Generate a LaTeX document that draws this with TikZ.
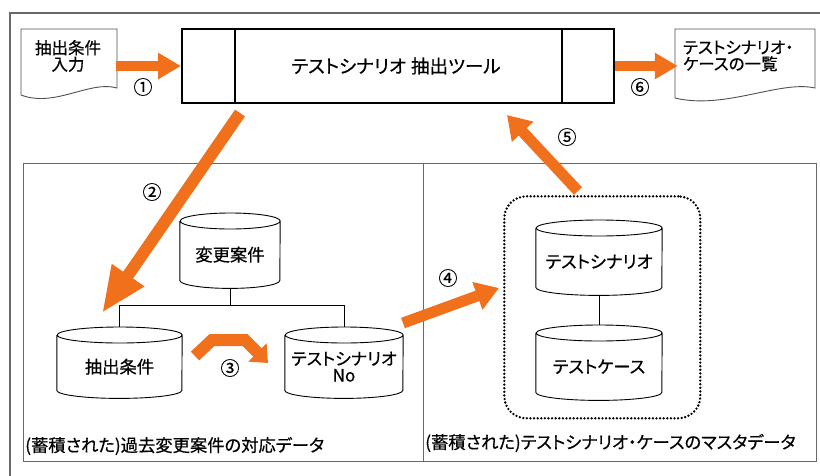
\documentclass[tikz,border=0pt]{standalone}
\usepackage{fontspec}
\setmainfont{Noto Sans CJK JP}[RawFeature=+palt,FakeBold=0.5]
\usetikzlibrary{arrows.meta}
\definecolor{arrOrange}{RGB}{240,112,28}
\definecolor{frameGray}{RGB}{105,105,105}
\definecolor{docGray}{RGB}{80,80,80}
\newcommand\drawcyl[2]{%
  \draw[cylline] (#1.north west) -- ([yshift=8pt]#1.south west)
    arc[start angle=180,end angle=360,x radius=#2,y radius=8pt]
    -- (#1.north east)
    arc[start angle=0,end angle=360,x radius=#2,y radius=8pt];}
\begin{document}
\begin{tikzpicture}[x=1pt,y=-1pt,
  font=\fontsize{17.3}{17.3}\selectfont,
  panel/.style={draw=frameGray,line width=1.1pt,inner sep=0pt,anchor=north west},
  cylnode/.style={inner sep=0pt,anchor=north,align=center},
  cylline/.style={draw=black,line width=0.9pt},
  docline/.style={draw=docGray,line width=0.9pt},
  docnode/.style={inner sep=0pt,font=\fontsize{16.5}{16.5}\selectfont},
  toolbox/.style={draw=black,line width=2pt,inner sep=0pt,anchor=north west},
  dotbox/.style={draw=black,line width=2.6pt,dash pattern=on 0pt off 3.6pt,line cap=round,rounded corners=22pt,inner sep=0pt,anchor=north west},
  treeline/.style={draw=black,line width=0.8pt},
  numlabel/.style={inner sep=0pt,font=\fontsize{19}{19}\selectfont},
  arrowA/.style={draw=arrOrange,line width=10pt,-{Triangle[length=23pt,width=25pt]}},
  arrowB/.style={draw=arrOrange,line width=12pt,-{Triangle[length=46pt,width=36pt]}},
  arrowC/.style={draw=arrOrange,line width=11pt,-{Triangle[length=23pt,width=28pt]}},
  arrowD/.style={draw=arrOrange,line width=12pt,line join=miter,-{Triangle[length=15pt,width=25pt]}}]
\useasboundingbox (0,0) rectangle (820,475);
% outer frame (cut off at right and bottom)
\draw[frameGray,line width=1.2pt] (10,476) -- (10,13) -- (821,13);
% panels
\node[panel,minimum width=400pt,minimum height=298pt] (leftpanel) at (23,163) {};
\node[panel,minimum width=393pt,minimum height=298pt] (rightpanel) at (423,163) {};
\node[anchor=west,inner sep=0pt] (leftlabel) at (25,446) {(蓄積された)過去変更案件の対応データ};
\node[anchor=west,inner sep=0pt] (rightlabel) at (425,443) {(蓄積された)テストシナリオ・ケースのマスタデータ};
% tool box
\node[toolbox,minimum width=432pt,minimum height=74pt] (tool) at (181,28) {};
\node[inner sep=0pt,font=\fontsize{18.5}{18.5}\selectfont] (tooltext) at (396,66) {テストシナリオ\hspace{5pt}抽出ツール};
\draw[black,line width=2pt] ([xshift=54pt]tool.north west) -- ([xshift=54pt]tool.south west);
\draw[black,line width=2pt] ([xshift=-53pt]tool.north east) -- ([xshift=-53pt]tool.south east);
% documents
\draw[docline,fill=white] (21,29) -- (117,29) -- (117,88) .. controls (90,80) and (55,108) .. (21,95) -- cycle;
\node[docnode,minimum width=96pt,text width=96pt,align=center] (doc1) at (68,56) {抽出条件\\入力};
\draw[docline,fill=white] (675,29) -- (815,29) -- (815,88) .. controls (780,80) and (725,110) .. (675,98) -- cycle;
\node[docnode,minimum width=140pt,text width=130pt,align=left] (doc2) at (748,56) {テストシナリオ・\\ケースの一覧};
% cylinders left
\node[cylnode,minimum width=100pt,minimum height=67pt] (henko) at (230,221) {変更案件};
\drawcyl{henko}{50pt}
\node[cylnode,minimum width=125pt,minimum height=63pt] (chushutsu) at (119.5,335) {抽出条件};
\drawcyl{chushutsu}{62.5pt}
\node[cylnode,minimum width=118pt,minimum height=63pt,font=\fontsize{17}{16.5}\selectfont] (tsno) at (344,335) {テストシナリオ\\No};
\drawcyl{tsno}{59pt}
\draw[treeline] (henko.south) -- ++(0,17) coordinate (treejoin);
\draw[treeline] (treejoin) -| ([yshift=8pt]chushutsu.north);
\draw[treeline] (treejoin) -| ([yshift=8pt]tsno.north);
% cylinders right
\node[dotbox,minimum width=196pt,minimum height=222pt] (master) at (503,195) {};
\node[cylnode,minimum width=126pt,minimum height=67pt] (scen) at (599,228) {テストシナリオ};
\drawcyl{scen}{63pt}
\node[cylnode,minimum width=126pt,minimum height=67pt] (tcase) at (599,333) {テストケース};
\drawcyl{tcase}{63pt}
\draw[treeline] (scen.south) -- ([yshift=8pt]tcase.north);
% arrows
\draw[arrowA] (doc1.east |- tool.west) -- (tool.west);
\draw[arrowA] (tool.east) -- (doc2.west |- tool.east);
\coordinate (a2s) at (240,113);
\coordinate (a2e) at (102,313);
\draw[arrowB] (a2s) -- (a2e);
\coordinate (a4s) at (403,323);
\coordinate (a4e) at (499,288);
\draw[arrowC] (a4s) -- (a4e);
\coordinate (a5s) at (578,191);
\coordinate (a5e) at (507,115);
\draw[arrowC] (a5s) -- (a5e);
\draw[arrowD] (195,356) -- (212,340) -- (245,340) -- (268,363);
% number labels
\node[numlabel] (n1) at (143,87) {①};
\node[numlabel] (n2) at (152,192) {②};
\node[numlabel] (n3) at (230,368) {③};
\node[numlabel] (n4) at (448,278) {④};
\node[numlabel] (n5) at (567,137) {⑤};
\node[numlabel] (n6) at (640,87) {⑥};
\end{tikzpicture}
\end{document}
